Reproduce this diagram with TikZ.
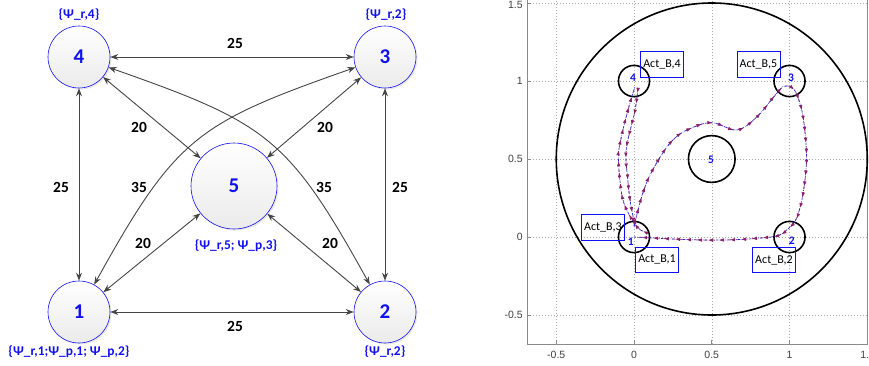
\documentclass[tikz,border=0pt]{standalone}
\usepackage{fontspec}
\setmainfont{Carlito}
\newfontfamily\arialf{Liberation Sans}
\usetikzlibrary{arrows.meta,shadows,decorations.markings}
\definecolor{edgec}{HTML}{454545}
\definecolor{nblue}{HTML}{1010F0}
\definecolor{purp}{HTML}{8C1F66}
\definecolor{trajblue}{HTML}{2A2AD8}
\definecolor{axgray}{HTML}{8A8A8A}
\definecolor{gridc}{HTML}{A8A8A8}
\definecolor{tickc}{HTML}{404040}
\begin{document}
\begin{tikzpicture}[x=1pt,y=-1pt,
  gnode/.style={circle,draw=nblue,line width=0.6pt,top color=white,bottom color=black!8,
    minimum size=62pt,inner sep=0pt,font=\fontsize{21}{21}\selectfont\bfseries,text=nblue,
    drop shadow={shadow xshift=1.5pt,shadow yshift=-1.5pt,opacity=0.18}},
  bignode/.style={gnode,minimum size=86pt},
  conn/.style={edgec,line width=0.9pt,{Stealth[length=8pt,width=6pt]}-{Stealth[length=8pt,width=6pt]}},
  wlabel/.style={font=\fontsize{15.5}{16}\selectfont\bfseries,text=black,inner sep=0pt},
  psilabel/.style={font=\fontsize{13.4}{14}\selectfont\bfseries,text=nblue,inner sep=0pt},
  gridline/.style={gridc,line width=0.5pt,dash pattern=on 1pt off 2pt},
  axline/.style={axgray,line width=0.7pt},
  ticklab/.style={font=\arialf\fontsize{10.5}{11}\selectfont,text=tickc,inner sep=0pt},
  ring/.style={black,line width=1.6pt},
  pnum/.style={font=\fontsize{11.5}{12}\selectfont\bfseries,text=nblue,inner sep=0pt},
  actbox/.style={draw=nblue,line width=0.8pt,minimum width=43pt,minimum height=25.5pt,inner sep=0pt,
    font=\fontsize{12}{12}\selectfont,text=black},
  traj/.style={trajblue,line width=0.7pt,dash pattern=on 2.5pt off 1.2pt on 0.6pt off 1.2pt,
    postaction={decorate},
    decoration={markings,mark=between positions 0.03 and 0.99 step 11pt with
      {\arrow{Triangle[length=4.5pt,width=3.2pt,color=purp]}}}},
  trajunder/.style={purp,line width=0.9pt,dash pattern=on 3pt off 5pt,opacity=0.65},
 ]
\useasboundingbox (0,0) rectangle (869,365);

% ---------- left graph ----------
\node[gnode] (n4) at (79,57) {4};
\node[gnode] (n3) at (385,57) {3};
\node[gnode] (n1) at (79,312) {1};
\node[gnode] (n2) at (385,312) {2};
\node[bignode] (n5) at (234,186) {5};

\draw[conn] (n4) -- (n3);
\draw[conn] (n1) -- (n2);
\draw[conn] (n4) -- (n1);
\draw[conn] (n3) -- (n2);
\draw[conn] (n4) -- (n5);
\draw[conn] (n3) -- (n5);
\draw[conn] (n1) -- (n5);
\draw[conn] (n2) -- (n5);
\draw[conn] (n3) .. controls (197,123) and (176,137) .. (n1);
\draw[conn] (n4) .. controls (267,123) and (288,137) .. (n2);

\node[wlabel] (w43) at (235,43) {25};
\node[wlabel] (w12) at (235,326) {25};
\node[wlabel] (w41) at (61,187) {25};
\node[wlabel] (w32) at (400,187) {25};
\node[wlabel] (w45) at (139,127) {20};
\node[wlabel] (w35) at (325,127) {20};
\node[wlabel] (w15) at (143,243) {20};
\node[wlabel] (w25) at (330,243) {20};
\node[wlabel] (w31) at (139,187) {35};
\node[wlabel] (w42) at (324,187) {35};

\node[psilabel] (p4) at (79,15) {\{Ψ\_r,4\}};
\node[psilabel] (p3) at (386,15) {\{Ψ\_r,2\}};
\node[psilabel] (p1) at (69,352) {\{Ψ\_r,1;Ψ\_p,1; Ψ\_p,2\}};
\node[psilabel] (p2) at (385,352) {\{Ψ\_r,2\}};
\node[psilabel] (p5) at (236,246) {\{Ψ\_r,5; Ψ\_p,3\}};

% ---------- right plot ----------
\begin{scope}[shift={(634,237)},x=155.5pt,y=156pt]
  \foreach \gx in {-0.5,0,0.5,1} \draw[gridline] (\gx,-0.686) -- (\gx,1.53);
  \foreach \gy in {-0.5,0,0.5,1,1.5} \draw[gridline] (-0.688,\gy) -- (1.5,\gy);
  \draw[axline] (-0.688,1.53) -- (-0.688,-0.686) -- (1.5,-0.686) -- (1.5,1.53);
  \foreach \gx in {-0.5,0,0.5,1} \draw[axline] (\gx,-0.686) -- (\gx,-0.66);
  \foreach \gy in {-0.5,0,0.5,1,1.5} \draw[axline] (-0.688,\gy) -- (-0.662,\gy);

  \foreach \gx/\nm in {-0.5/a,0/b,0.5/c,1/d}
    \node[ticklab,anchor=north] (xt\nm) at (\gx,-0.73) {\gx};
  \node[ticklab,anchor=north west] (xte) at (1.455,-0.73) {1.};
  \foreach \gy/\nm in {-0.5/a,0/b,0.5/c,1/d}
    \node[ticklab,anchor=east] (yt\nm) at (-0.715,\gy) {\gy};
  \node[ticklab,anchor=east] (yte) at (-0.715,1.49) {1.5};

  % rings
  \draw[ring] (0.5,0.5) ellipse [x radius=1,y radius=1];
  \draw[ring] (0.5,0.5) ellipse [x radius=0.15,y radius=0.15];
  \foreach \cx/\cy in {0/0,1/0,1/1,0/1}
    \draw[ring] (\cx,\cy) ellipse [x radius=0.1,y radius=0.1];

  % trajectories
  \foreach \st in {trajunder,traj}{
  \draw[\st] plot[smooth,tension=0.6] coordinates {(0.09,0.026) (0.026,0.058) (-0.045,0.17) (-0.08,0.28) (-0.10,0.49) (-0.09,0.6) (-0.04,0.81) (0.006,0.963)};
  \draw[\st] plot[smooth,tension=0.6] coordinates {(0.026,0.955) (0.006,0.81) (-0.05,0.56) (-0.04,0.37) (-0.026,0.24) (-0.006,0.13) (0.005,0.06)};
  \draw[\st] plot[smooth,tension=0.5] coordinates {(0.0,0.07) (0.02,0.15) (0.05,0.26) (0.09,0.37) (0.154,0.49) (0.23,0.60) (0.31,0.67) (0.44,0.725) (0.52,0.73) (0.6,0.70) (0.655,0.685) (0.72,0.71) (0.81,0.79) (0.9,0.9) (0.96,0.965) (1.0,0.965)};
  \draw[\st] plot[smooth,tension=0.5] coordinates {(1.0,0.965) (1.04,0.93) (1.08,0.81) (1.10,0.67) (1.11,0.51) (1.10,0.37) (1.08,0.24) (1.05,0.13) (1.02,0.08) (0.96,0.026) (0.93,0.01)};
  \draw[\st] plot[smooth,tension=0.5] coordinates {(0.93,0.01) (0.88,0.0) (0.7,-0.015) (0.5,-0.02) (0.3,-0.015) (0.1,-0.005) (0.0,0.0)};
  }

  \node[pnum] (q4) at (-0.006,1.02) {4};
  \node[pnum] (q3) at (1.01,1.02) {3};
  \node[pnum] (q5) at (0.495,0.494) {5};
  \node[pnum] (q1) at (-0.02,-0.03) {1};
  \node[pnum] (q2) at (1.015,-0.026) {2};

  \node[actbox] (a4) at (0.18,1.106) {Act\_B,4};
  \node[actbox] (a5) at (0.80,1.106) {Act\_B,5};
  \node[actbox] (a3) at (-0.20,0.063) {Act\_B,3};
  \node[actbox] (a1) at (0.148,-0.147) {Act\_B,1};
  \node[actbox] (a2) at (0.90,-0.147) {Act\_B,2};
\end{scope}
\end{tikzpicture}
\end{document}
